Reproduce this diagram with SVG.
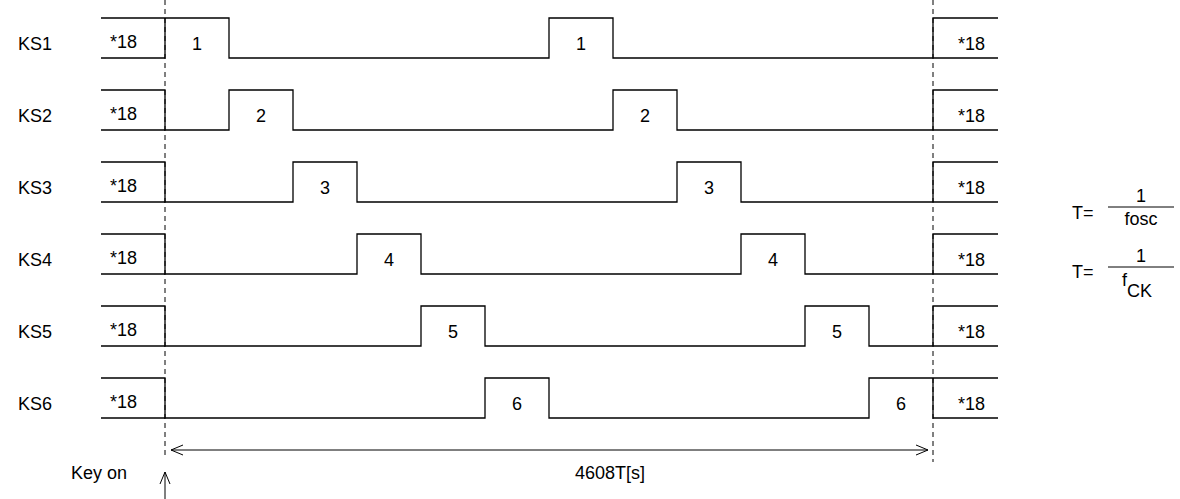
<svg xmlns="http://www.w3.org/2000/svg" width="1180" height="499" viewBox="0 0 1180 499">
<style>
.w{fill:none;stroke:#000;stroke-width:1.3}
.d{fill:none;stroke:#000;stroke-width:1;stroke-dasharray:5,4}
text{font-family:"Liberation Sans",Arial,sans-serif;font-size:18px;fill:#000}
.c{text-anchor:middle}
</style>
<defs>
<marker id="ah" markerWidth="14" markerHeight="12" refX="13" refY="6" orient="auto-start-reverse" markerUnits="userSpaceOnUse">
<path d="M1,1 L13,6 L1,11" fill="none" stroke="#000" stroke-width="1"/>
</marker>
</defs>
<g id="guides">
<line class="d" x1="165" y1="0" x2="165" y2="458"/>
<line class="d" x1="933" y1="0" x2="933" y2="462"/>
</g>
<g id="KS1">
<text x="18" y="50">KS1</text>
<path class="w" d="M101,18 H229 V58 H549 V18 H613 V58 H998"/>
<path class="w" d="M101,58 H165 V18"/>
<path class="w" d="M933,58 V18 H998"/>
<text x="110" y="48">*18</text><text class="c" x="197" y="50">1</text><text class="c" x="581" y="50">1</text><text x="958" y="50">*18</text>
</g>
<g id="KS2">
<text x="18" y="122">KS2</text>
<path class="w" d="M101,90 H165 V130 H229 V90 H293 V130 H613 V90 H677 V130 H998"/>
<path class="w" d="M101,130 H165"/>
<path class="w" d="M933,130 V90 H998"/>
<text x="110" y="120">*18</text><text class="c" x="261" y="122">2</text><text class="c" x="645" y="122">2</text><text x="958" y="122">*18</text>
</g>
<g id="KS3">
<text x="18" y="194">KS3</text>
<path class="w" d="M101,162 H165 V202 H293 V162 H357 V202 H677 V162 H741 V202 H998"/>
<path class="w" d="M101,202 H165"/>
<path class="w" d="M933,202 V162 H998"/>
<text x="110" y="192">*18</text><text class="c" x="325" y="194">3</text><text class="c" x="709" y="194">3</text><text x="958" y="194">*18</text>
</g>
<g id="KS4">
<text x="18" y="266">KS4</text>
<path class="w" d="M101,234 H165 V274 H357 V234 H421 V274 H741 V234 H805 V274 H998"/>
<path class="w" d="M101,274 H165"/>
<path class="w" d="M933,274 V234 H998"/>
<text x="110" y="264">*18</text><text class="c" x="389" y="266">4</text><text class="c" x="773" y="266">4</text><text x="958" y="266">*18</text>
</g>
<g id="KS5">
<text x="18" y="338">KS5</text>
<path class="w" d="M101,306 H165 V346 H421 V306 H485 V346 H805 V306 H869 V346 H998"/>
<path class="w" d="M101,346 H165"/>
<path class="w" d="M933,346 V306 H998"/>
<text x="110" y="336">*18</text><text class="c" x="453" y="338">5</text><text class="c" x="837" y="338">5</text><text x="958" y="338">*18</text>
</g>
<g id="KS6">
<text x="18" y="410">KS6</text>
<path class="w" d="M101,378 H165 V418 H485 V378 H549 V418 H869 V378 H998"/>
<path class="w" d="M101,418 H165"/>
<path class="w" d="M933,378 V418 H998"/>
<text x="110" y="408">*18</text><text class="c" x="517" y="410">6</text><text class="c" x="901" y="410">6</text><text x="958" y="410">*18</text>
</g>
<g id="connectors">
<line x1="171" y1="450" x2="928" y2="450" stroke="#000" stroke-width="1" marker-start="url(#ah)" marker-end="url(#ah)"/>
<line x1="165" y1="499" x2="165" y2="472" stroke="#000" stroke-width="1" marker-end="url(#ah)"/>
</g>
<g id="labels">
<text x="71" y="479">Key on</text>
<text class="c" x="610" y="479">4608T[s]</text>
</g>
<g id="formula">
<text x="1072" y="219">T=</text>
<line x1="1108" y1="207" x2="1174" y2="207" stroke="#000" stroke-width="1"/>
<text class="c" x="1141" y="202">1</text>
<text class="c" x="1141" y="225">fosc</text>
<text x="1072" y="278">T=</text>
<line x1="1108" y1="267" x2="1174" y2="267" stroke="#000" stroke-width="1"/>
<text class="c" x="1141" y="262">1</text>
<text x="1122" y="286">f<tspan dy="11">CK</tspan></text>
</g>
</svg>
